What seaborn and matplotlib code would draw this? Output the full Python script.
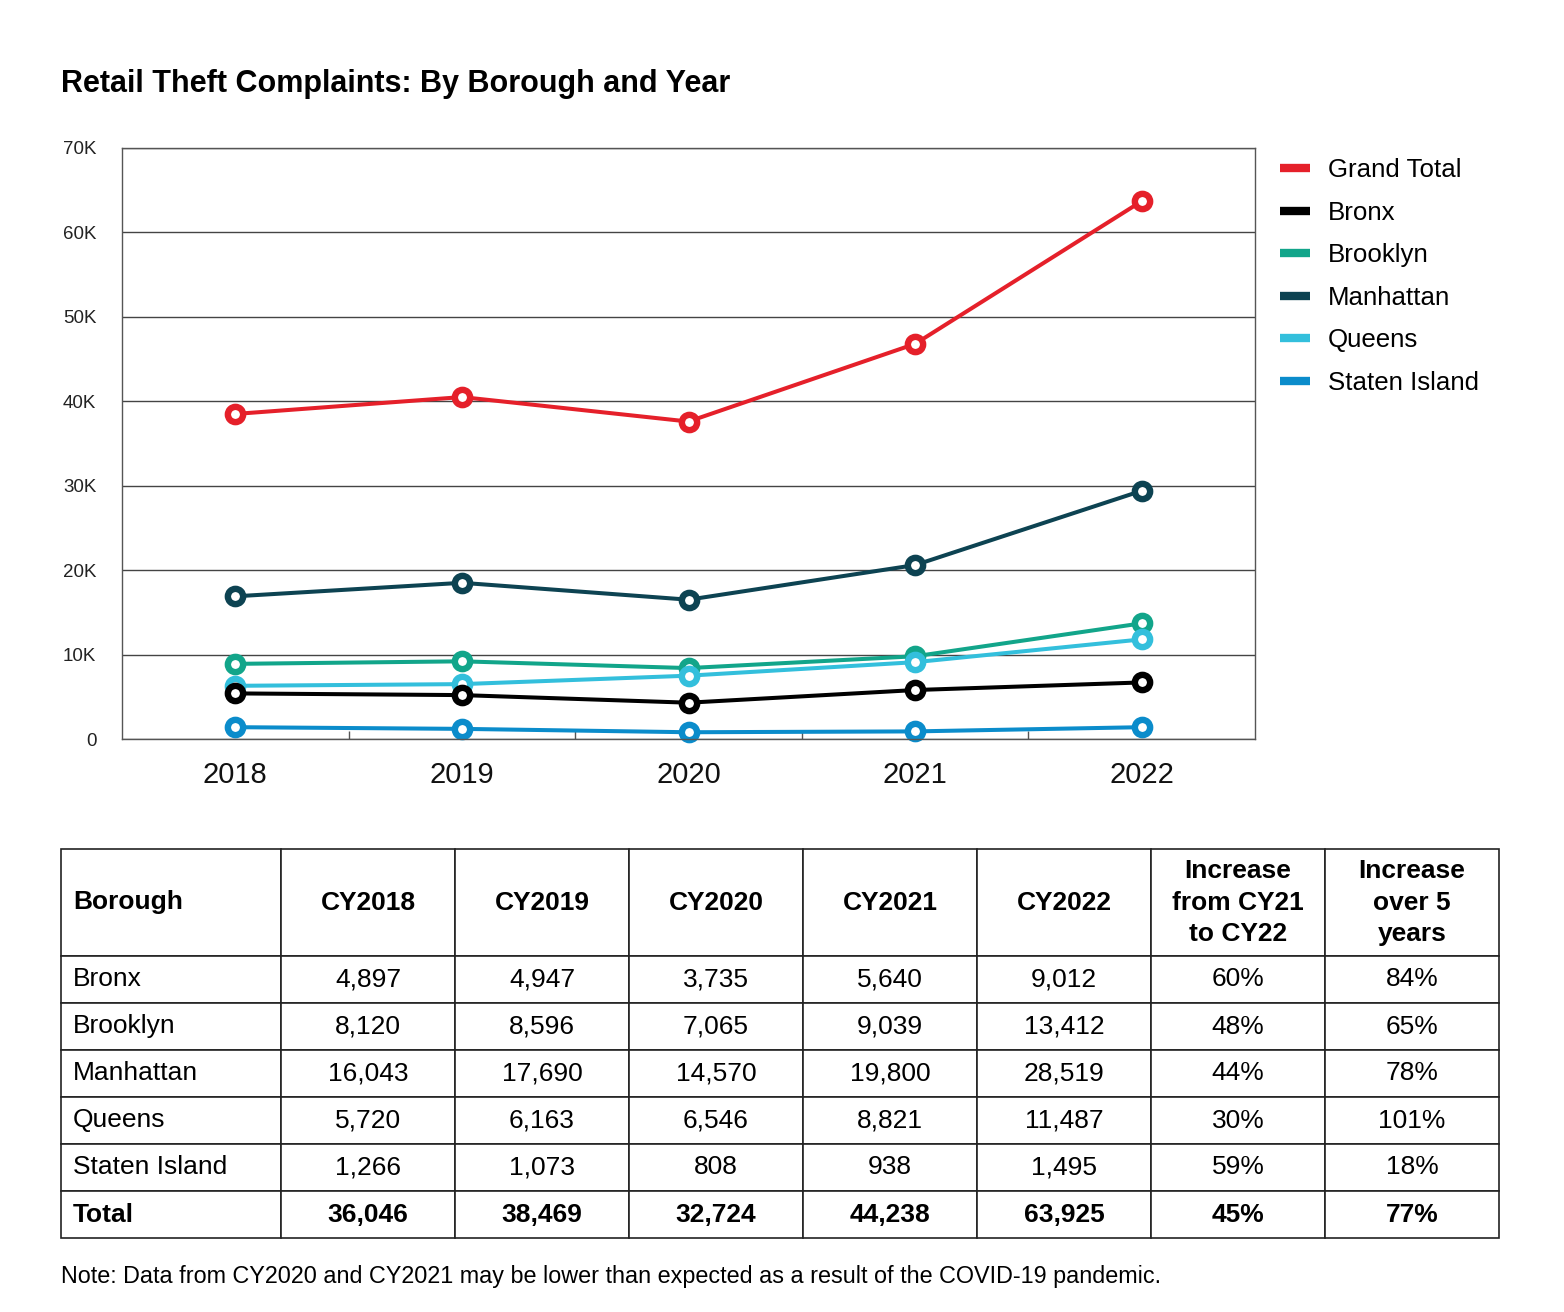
import numpy as np
import pandas as pd
import matplotlib
matplotlib.use('Agg')
import matplotlib.pyplot as plt
from matplotlib.lines import Line2D
from matplotlib.ticker import FuncFormatter, FixedLocator
import seaborn as sns

# Chart values
years = [2018, 2019, 2020, 2021, 2022]
series_names = ['Grand Total', 'Bronx', 'Brooklyn', 'Manhattan', 'Queens', 'Staten Island']
grand_total = [38500, 40500, 37600, 46800, 63700]
bronx = [5400, 5200, 4300, 5800, 6700]
brooklyn = [8900, 9200, 8400, 9800, 13700]
manhattan = [16900, 18500, 16500, 20600, 29400]
queens = [6300, 6500, 7500, 9100, 11800]
staten_island = [1400, 1200, 800, 900, 1400]
colors = ['#E5202A', '#000000', '#12A58A', '#0D4352', '#33BFDC', '#0B8CCB']

# Table values
col_labels = ['Borough', 'CY2018', 'CY2019', 'CY2020', 'CY2021', 'CY2022',
              'Increase\nfrom CY21\nto CY22', 'Increase\nover 5\nyears']
row_names = ['Bronx', 'Brooklyn', 'Manhattan', 'Queens', 'Staten Island', 'Total']
cy2018 = ['4,897', '8,120', '16,043', '5,720', '1,266', '36,046']
cy2019 = ['4,947', '8,596', '17,690', '6,163', '1,073', '38,469']
cy2020 = ['3,735', '7,065', '14,570', '6,546', '808', '32,724']
cy2021 = ['5,640', '9,039', '19,800', '8,821', '938', '44,238']
cy2022 = ['9,012', '13,412', '28,519', '11,487', '1,495', '63,925']
inc_21_22 = ['60%', '48%', '44%', '30%', '59%', '45%']
inc_5yr = ['84%', '65%', '78%', '101%', '18%', '77%']

sns.set_theme(style='white')
plt.rcParams['font.family'] = ['Liberation Sans', 'DejaVu Sans']
plt.rcParams['text.color'] = 'black'

values = [grand_total, bronx, brooklyn, manhattan, queens, staten_island]
df = pd.DataFrame({
    'Year': np.tile(years, len(series_names)),
    'Series': np.repeat(series_names, len(years)),
    'Complaints': np.concatenate(values),
})
palette = dict(zip(series_names, colors))

W, H = 1564, 1312
fig = plt.figure(figsize=(W / 100, H / 100), dpi=100)
ax = fig.add_axes([122 / W, 1 - 739 / H, (1255 - 122) / W, (739 - 148) / H])

draw_order = ['Grand Total', 'Manhattan', 'Brooklyn', 'Queens', 'Bronx', 'Staten Island']
sns.lineplot(data=df, x='Year', y='Complaints', hue='Series', hue_order=draw_order,
             palette=palette, marker='o', markersize=11, markeredgewidth=4.6,
             markerfacecolor='white', linewidth=2.9, legend=False, ax=ax)
for line in ax.lines:
    line.set_markeredgecolor(line.get_color())
    line.set_clip_on(False)

ax.set_ylim(0, 70000)
ax.set_xlim(years[0] - 0.5, years[-1] + 0.5)
ax.set_yticks(np.arange(0, 70001, 10000))
ax.yaxis.set_major_formatter(FuncFormatter(lambda v, p: '0' if v == 0 else f'{int(v / 1000)}K'))
ax.set_xticks(years)
ax.set_xticklabels([str(y) for y in years])
ax.xaxis.set_minor_locator(FixedLocator([y + 0.5 for y in years[:-1]]))
ax.tick_params(axis='y', length=0, pad=18.5, labelsize=13.5, labelcolor='#222222')
ax.tick_params(axis='x', which='major', length=0, pad=16, labelsize=21, labelcolor='#111111')
ax.tick_params(axis='x', which='minor', direction='in', length=6, width=1, color='#555555',
               bottom=True)
ax.grid(axis='y', color='#444444', linewidth=1)
ax.set_axisbelow(True)
for side in ['left', 'right', 'top', 'bottom']:
    ax.spines[side].set_visible(True)
    ax.spines[side].set_color('#555555')
    ax.spines[side].set_linewidth(1)
ax.set_xlabel('')
ax.set_ylabel('')

handles = [Line2D([0], [0], color=palette[n], linewidth=6, solid_capstyle='butt')
           for n in series_names]
fig.legend(handles, series_names, loc='upper left', bbox_to_anchor=(1280 / W, 1 - 158 / H),
           frameon=False, fontsize=18.6, handlelength=1.15, handletextpad=0.7,
           labelspacing=0.72, borderpad=0, borderaxespad=0)

fig.text(61 / W, 1 - 84 / H, 'Retail Theft Complaints: By Borough and Year',
         fontsize=22, fontweight='bold', va='center', ha='left', color='black')

# Table
tax = fig.add_axes([61 / W, 1 - 1238 / H, (1499 - 61) / W, (1238 - 849) / H])
tax.axis('off')
cell_text = [list(r) for r in zip(row_names, cy2018, cy2019, cy2020, cy2021, cy2022,
                                  inc_21_22, inc_5yr)]
col_widths = [220, 174, 174, 174, 174, 174, 174, 174]
tbl = tax.table(cellText=cell_text, colLabels=col_labels, cellLoc='center',
                colWidths=[w / sum(col_widths) for w in col_widths], bbox=[0, 0, 1, 1])
tbl.auto_set_font_size(False)
n_rows = len(row_names)
for (r, c), cell in tbl.get_celld().items():
    cell.set_height(107 if r == 0 else 47)
    cell.set_edgecolor('#222222')
    cell.set_linewidth(1.2)
    txt = cell.get_text()
    txt.set_fontsize(19)
    txt.set_color('black')
    txt.set_linespacing(1.4)
    if r == 0 or r == n_rows:
        txt.set_fontweight('bold')
    if c == 0:
        cell.PAD = 12 / 220
        cell._loc = 'left'
        txt.set_ha('left')

fig.text(61 / W, 1 - 1276 / H,
         'Note: Data from CY2020 and CY2021 may be lower than expected as a result of the COVID-19 pandemic.',
         fontsize=16.8, va='center', ha='left', color='black')

fig.savefig('out.png', dpi=100)
